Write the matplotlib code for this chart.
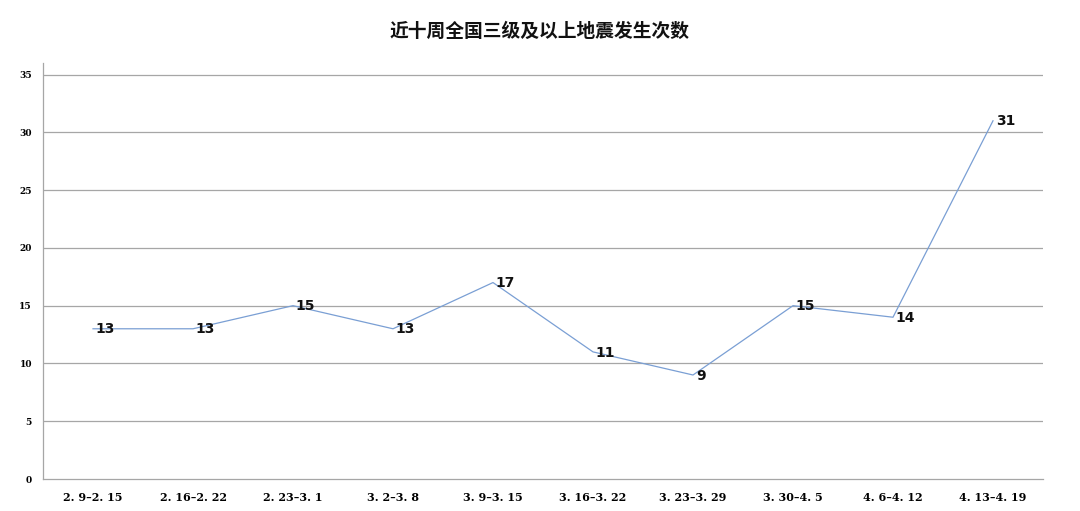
import matplotlib
matplotlib.use("Agg")
import matplotlib.pyplot as plt

categories = ["2. 9–2. 15", "2. 16–2. 22", "2. 23–3. 1", "3. 2–3. 8", "3. 9–3. 15",
              "3. 16–3. 22", "3. 23–3. 29", "3. 30–4. 5", "4. 6–4. 12", "4. 13–4. 19"]
values = [13, 13, 15, 13, 17, 11, 9, 15, 14, 31]
yticks = [0, 5, 10, 15, 20, 25, 30, 35]
title = "近十周全国三级及以上地震发生次数"

plt.rcParams['font.family'] = ['Noto Sans CJK SC', 'DejaVu Sans']

fig = plt.figure(figsize=(10.8, 5.11), dpi=100)
ax = fig.add_axes([43/1080, 1-479/511, 1000/1080, 416/511])

x = list(range(len(categories)))
ax.plot(x, values, color="#7a9fd4", lw=0.9, zorder=3)
for xi, v in zip(x, values):
    ax.annotate(str(v), (xi, v), xytext=(2, -0.5), textcoords="offset points",
                ha="left", va="center", fontsize=10, fontweight="bold",
                family=["DejaVu Sans"], color="#111111", zorder=4)

ax.set_xlim(-0.5, len(categories) - 0.5)
ax.set_ylim(0, 36)
ax.set_yticks(yticks)
ax.set_yticklabels([str(t) for t in yticks], family="DejaVu Serif",
                   fontweight="bold", fontsize=6.5)
ax.set_xticks(x)
ax.set_xticklabels(categories, family="DejaVu Serif", fontweight="bold", fontsize=8)
ax.tick_params(length=0, pad=8)
ax.tick_params(axis="x", pad=9)
for t in yticks[1:]:
    ax.axhline(t, color="#a6a6a6", lw=0.9, zorder=1)
for s in ["top", "right"]:
    ax.spines[s].set_visible(False)
for s in ["left", "bottom"]:
    ax.spines[s].set_color("#a6a6a6")
    ax.spines[s].set_linewidth(0.9)

fig.text(0.5, 1-31/511, title, ha="center", va="center", fontsize=13.5,
         fontweight="bold", color="#111111")

fig.savefig("out.png", dpi=100, facecolor="white")
